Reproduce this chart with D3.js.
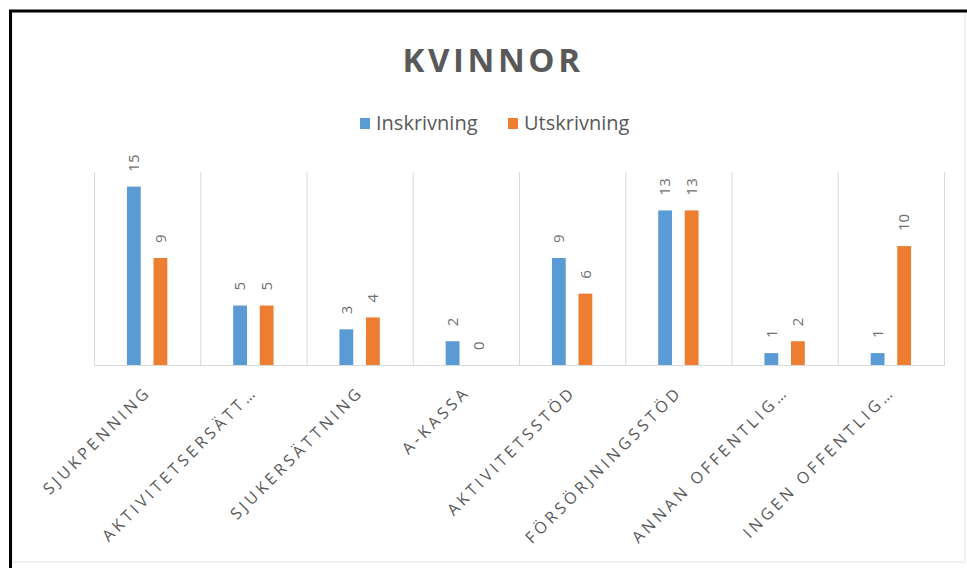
<!DOCTYPE html>
<html><head><meta charset="utf-8">
<script src="https://cdn.jsdelivr.net/npm/d3@7"></script>
<style>
html,body{margin:0;padding:0;background:#fff;}
svg{display:block;font-family:"Open Sans",sans-serif;}
</style></head>
<body><svg id="c" width="967" height="568"></svg>
<script>
const title = "KVINNOR";
const categories = ["SJUKPENNING","AKTIVITETSERSÄTT…","SJUKERSÄTTNING","A-KASSA","AKTIVITETSSTÖD","FÖRSÖRJNINGSSTÖD","ANNAN OFFENTLIG…","INGEN OFFENTLIG…"];
const seriesNames = ["Inskrivning","Utskrivning"];
const inskrivning = [15,5,3,2,9,13,1,1];
const utskrivning = [9,5,4,0,6,13,2,10];
const colors = ["#5B9BD5","#ED7D31"];

const svg = d3.select("#c");
const textColor = "#595959";

// outer frame
svg.append("rect").attr("x",12).attr("y",12).attr("width",953).attr("height",550)
  .attr("fill","#fff").attr("stroke","#e6e6e6").attr("stroke-width",1);
svg.append("path").attr("d","M10.5,568 V11 H967").attr("fill","none").attr("stroke","#000").attr("stroke-width",3);

// title
svg.append("text").attr("x",493).attr("y",72).attr("text-anchor","middle")
  .attr("font-size",33).attr("font-weight",700).attr("letter-spacing",3.6)
  .attr("fill",textColor).text(title);

// legend
const legend = [{x:360,name:seriesNames[0],c:colors[0]},{x:508,name:seriesNames[1],c:colors[1]}];
legend.forEach(l=>{
  svg.append("rect").attr("x",l.x).attr("y",118).attr("width",10).attr("height",11).attr("fill",l.c);
  svg.append("text").attr("x",l.x+16).attr("y",130).attr("font-size",20).attr("fill",textColor).text(l.name);
});

// scales
const plotL = 94, plotR = 944, plotT = 172, base = 365;
const x0 = d3.scaleBand().domain(categories).range([plotL, plotR]).padding(0);
const bw = x0.bandwidth();
const x1 = d3.scaleBand().domain(seriesNames).range([bw*0.31, bw*0.69]).paddingInner(0.48);
const y = d3.scaleLinear().domain([0,16.23]).range([base, plotT]);

// gridlines (vertical category separators)
const g = svg.append("g");
const bounds = categories.map(c=>x0(c)).concat([plotR]);
g.selectAll("line.grid").data(bounds).join("line")
  .attr("x1",d=>d+0.5).attr("x2",d=>d+0.5).attr("y1",plotT).attr("y2",base)
  .attr("stroke","#d9d9d9").attr("stroke-width",1);
g.append("line").attr("x1",plotL).attr("x2",plotR+1).attr("y1",base+0.5).attr("y2",base+0.5)
  .attr("stroke","#d9d9d9").attr("stroke-width",1);

// bars
const rows = categories.map((c,i)=>({cat:c, vals:[inskrivning[i], utskrivning[i]]}));
const grp = svg.append("g").selectAll("g").data(rows).join("g")
  .attr("transform",d=>`translate(${x0(d.cat)},0)`);
grp.selectAll("rect").data(d=>d.vals.map((v,j)=>({v, s:seriesNames[j], c:colors[j]}))).join("rect")
  .attr("x",d=>x1(d.s)).attr("width",x1.bandwidth())
  .attr("y",d=>y(d.v)).attr("height",d=>base-y(d.v))
  .attr("fill",d=>d.c);
grp.selectAll("text").data(d=>d.vals.map((v,j)=>({v, s:seriesNames[j]}))).join("text")
  .attr("transform",d=>`translate(${x1(d.s)+x1.bandwidth()/2},${y(d.v)-15}) rotate(-90)`)
  .attr("dy","0.35em").attr("text-anchor","start")
  .attr("font-size",15).attr("fill","#6f6f6f").text(d=>d.v);

// category labels
svg.append("g").selectAll("text").data(categories).join("text")
  .attr("transform",d=>`translate(${x0(d)+bw/2+1},${base+24}) rotate(-45)`)
  .attr("text-anchor","end").attr("dy","0.35em")
  .attr("font-size",16).attr("letter-spacing",3.6).attr("fill",textColor).text(d=>d);
</script></body></html>
